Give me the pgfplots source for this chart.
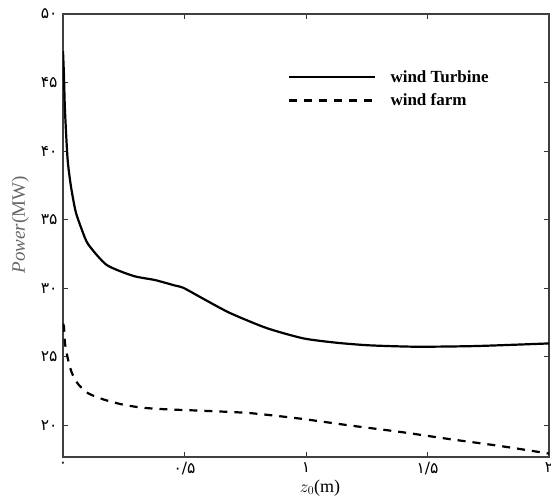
\documentclass[border=0pt]{standalone}
\usepackage{fontspec}
\setmainfont{Liberation Serif}
\newfontfamily\fa[Script=Arabic]{DejaVu Sans}
\usepackage{pgfplots}
\pgfplotsset{compat=1.18}
\newcommand\legfont{\bfseries\fontsize{17}{18}\selectfont}
\begin{document}
\begin{tikzpicture}
\useasboundingbox (-63pt,-40pt) rectangle (488pt,457pt);
\begin{axis}[
  at={(0pt,0pt)}, anchor=south west,
  scale only axis, width=486pt, height=443pt,
  xmin=0, xmax=2, ymin=17.7, ymax=50,
  xtick={0,0.5,1,1.5,2},
  xticklabels={{\fa ۰},{\fa ۰/۵},{\fa ۱},{\fa ۱/۵},{\fa ۲}},
  ytick={20,25,30,35,40,45,50},
  yticklabels={{\fa ۲۰},{\fa ۲۵},{\fa ۳۰},{\fa ۳۵},{\fa ۴۰},{\fa ۴۵},{\fa ۵۰}},
  tick align=inside, major tick length=5pt,
  tick style={black!80, line width=0.8pt},
  axis line style={black!75, line width=1.2pt},
  tick label style={font=\fontsize{15.5}{17}\selectfont},
  xticklabel style={yshift=-2pt},
  yticklabel style={xshift=-2pt},
  xlabel={\fontsize{18}{20}\selectfont $z_0$(m)},
  ylabel={\fontsize{19}{21}\selectfont \color{black!60}{\itshape Power}(MW)},
  xlabel style={at={(axis description cs:0.529,-0.07)}, anchor=center},
  ylabel style={at={(axis description cs:-0.088,0.524)}, anchor=center},
  legend style={draw=none, fill=none, at={(axis description cs:0.457,0.882)}, anchor=north west,
    row sep=6pt,
    /tikz/every odd column/.append style={column sep=12pt}},
  legend cell align=left,
  legend image code/.code={\draw[#1] (0pt,0pt) -- (86pt,0pt);},
]
\addplot[black, line width=2.2pt, smooth, tension=0.4] coordinates {
(0.0,47.3) (0.004,45.5) (0.008,43.0) (0.019,39.4) (0.033,37.4) (0.052,35.6) (0.077,34.3) (0.104,33.2)
(0.18,31.7) (0.29,30.9) (0.379,30.6) (0.461,30.2) (0.495,30.04) (0.577,29.24) (0.687,28.2)
(0.838,27.1) (0.989,26.35) (1.126,26.03) (1.263,25.84) (1.455,25.74) (1.70,25.79) (2.0,25.98)
};
\addlegendentry{\legfont wind Turbine}
\addplot[black, line width=2.2pt, dash pattern=on 8pt off 7pt, smooth, tension=0.4] coordinates {
(0.0,27.4) (0.004,27.2) (0.008,26.0) (0.019,24.94) (0.036,23.85) (0.063,23.0) (0.104,22.34)
(0.166,21.9) (0.241,21.54) (0.324,21.3) (0.42,21.18) (0.59,21.06) (0.77,20.9) (0.975,20.5)
(1.18,20.0) (1.387,19.53) (1.593,19.0) (1.80,18.5) (2.0,17.95)
};
\addlegendentry{\legfont wind farm}
\end{axis}
\end{tikzpicture}
\end{document}
